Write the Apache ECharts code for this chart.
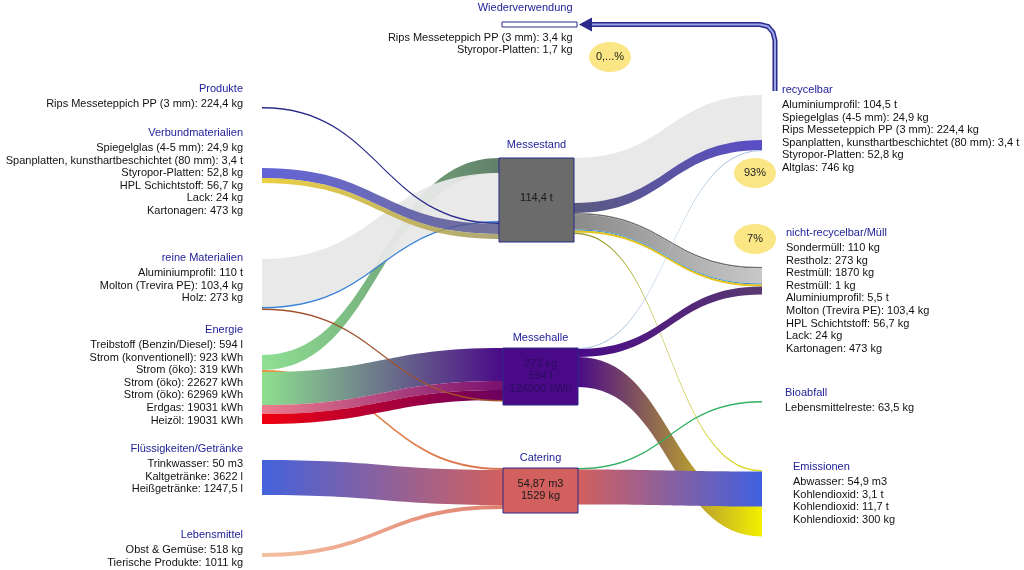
<!DOCTYPE html>
<html><head><meta charset="utf-8">
<script src="https://cdn.jsdelivr.net/npm/echarts@6/dist/echarts.min.js"></script>
<style>html,body{margin:0;padding:0;background:#fff}#c{width:1024px;height:570px}</style>
</head><body><div id="c"></div>
<script>
// ---------- DATA ----------
const sourceNames = ['Energie', 'reine Materialien', 'Produkte', 'Verbundmaterialien', 'Flüssigkeiten/Getränke', 'Lebensmittel'];
const stageNames = ['Messestand', 'Catering', 'Messehalle'];
const sinkNames = ['Wiederverwendung', 'recycelbar', 'nicht-recycelbar/Müll', 'Bioabfall', 'Emissionen'];

// flow widths
const linkSources = ['Energie','Energie','Energie','Energie','Energie',
  'reine Materialien','reine Materialien','reine Materialien','Produkte',
  'Verbundmaterialien','Verbundmaterialien','Flüssigkeiten/Getränke','Lebensmittel',
  'Messestand','Messestand','Messestand','Messestand','Messestand','Messestand','Messestand',
  'Messehalle','Messehalle','Messehalle','Catering','Catering'];
const linkTargets = ['Messestand','Catering','Messehalle','Messehalle','Messehalle',
  'Messestand','Messestand','Messehalle','Messestand',
  'Messestand','Messestand','Catering','Catering',
  'recycelbar','recycelbar','nicht-recycelbar/Müll','nicht-recycelbar/Müll','nicht-recycelbar/Müll','nicht-recycelbar/Müll','Emissionen',
  'recycelbar','nicht-recycelbar/Müll','Emissionen','Bioabfall','Emissionen'];
const linkValues = [15, 2, 33, 9, 10,
  48, 1.5, 1.5, 1.5,
  10, 5, 35, 4,
  45, 10, 1.5, 15, 1, 2, 1.5,
  1, 8, 30, 1.5, 35];

// texts
const stageTexts = {
  'Messestand': ['114,4 t'],
  'Messehalle': ['273 kg', '594 l', '124900 kWh'],
  'Catering': ['54,87 m3', '1529 kg']
};
const sourceItems = {
  'Produkte': ['Rips Messeteppich PP (3 mm): 224,4 kg'],
  'Verbundmaterialien': ['Spiegelglas (4-5 mm): 24,9 kg', 'Spanplatten, kunsthartbeschichtet (80 mm): 3,4 t', 'Styropor-Platten: 52,8 kg', 'HPL Schichtstoff: 56,7 kg', 'Lack: 24 kg', 'Kartonagen: 473 kg'],
  'reine Materialien': ['Aluminiumprofil: 110 t', 'Molton (Trevira PE): 103,4 kg', 'Holz: 273 kg'],
  'Energie': ['Treibstoff (Benzin/Diesel): 594 l', 'Strom (konventionell): 923 kWh', 'Strom (öko): 319 kWh', 'Strom (öko): 22627 kWh', 'Strom (öko): 62969 kWh', 'Erdgas: 19031 kWh', 'Heizöl: 19031 kWh'],
  'Flüssigkeiten/Getränke': ['Trinkwasser: 50 m3', 'Kaltgetränke: 3622 l', 'Heißgetränke: 1247,5 l'],
  'Lebensmittel': ['Obst & Gemüse: 518 kg', 'Tierische Produkte: 1011 kg']
};
const sinkItems = {
  'Wiederverwendung': ['Rips Messeteppich PP (3 mm): 3,4 kg', 'Styropor-Platten: 1,7 kg'],
  'recycelbar': ['Aluminiumprofil: 104,5 t', 'Spiegelglas (4-5 mm): 24,9 kg', 'Rips Messeteppich PP (3 mm): 224,4 kg', 'Spanplatten, kunsthartbeschichtet (80 mm): 3,4 t', 'Styropor-Platten: 52,8 kg', 'Altglas: 746 kg'],
  'nicht-recycelbar/Müll': ['Sondermüll: 110 kg', 'Restholz: 273 kg', 'Restmüll: 1870 kg', 'Restmüll: 1 kg', 'Aluminiumprofil: 5,5 t', 'Molton (Trevira PE): 103,4 kg', 'HPL Schichtstoff: 56,7 kg', 'Lack: 24 kg', 'Kartonagen: 473 kg'],
  'Bioabfall': ['Lebensmittelreste: 63,5 kg'],
  'Emissionen': ['Abwasser: 54,9 m3', 'Kohlendioxid: 3,1 t', 'Kohlendioxid: 11,7 t', 'Kohlendioxid: 300 kg']
};
const shareLabels = ['0,...%', '93%', '7%'];

// ---------- LAYOUT / STYLE ----------
const W = 1024, H = 190, NODE_W = 75;
const FONT = 'Liberation Sans, Arial, sans-serif';
const TITLE_C = '#22229a';
const pos = {
  'Energie': {x: 187, y: 355, lx: 56, ly: -33.7},
  'reine Materialien': {x: 187, y: 259, lx: 56, ly: -9.7},
  'Produkte': {x: 187, y: 107, lx: 56, ly: -26.7},
  'Verbundmaterialien': {x: 187, y: 168, lx: 56, ly: -43.7},
  'Flüssigkeiten/Getränke': {x: 187, y: 460, lx: 56, ly: -19.7},
  'Lebensmittel': {x: 187, y: 553, lx: 56, ly: -26.7},
  'Messestand': {x: 499, y: 158, box: 84, ly: -20, gap: 40.5, fill: '#6b6b6b', txt: '#1a1a1a'},
  'Catering': {x: 503, y: 468, box: 45, ly: -17, gap: 12.75, fill: '#d2605e', txt: '#1a1a1a'},
  'Messehalle': {x: 503, y: 348, box: 57, ly: -17, gap: 12.75, fill: '#4a0a88', txt: '#2a0c5c'},
  'Wiederverwendung': {x: 502, y: 22, box: 5, lx: 71, ly: -22.7, gap: 15},
  'recycelbar': {x: 762, y: 95, lx: 20, ly: -13.7},
  'nicht-recycelbar/Müll': {x: 762, y: 267, lx: 24, ly: -42.7},
  'Bioabfall': {x: 762, y: 401, lx: 23, ly: -16.7},
  'Emissionen': {x: 762, y: 470, lx: 31, ly: -11.7}
};
function grad(a, b) {
  return {type: 'linear', x: 0, y: 0, x2: 1, y2: 0, colorStops: [{offset: 0, color: a}, {offset: 1, color: b}]};
}
const linkStyles = [
  {color: grad('#8ee093', '#62806a')},
  {color: grad('#e89040', '#d87050')},
  {color: grad('#8ee08e', '#4a0a88')},
  {color: grad('#ec7c8c', '#7a1070')},
  {color: grad('#f00010', '#6a0060')},
  {color: '#e8e8e8', opacity: 0.95},
  {color: '#3a80d6'},
  {color: '#a0522d'},
  {color: '#2a2a8a'},
  {color: grad('#4848d0', '#5a5a88'), opacity: 0.85},
  {color: grad('#e8c820', '#a09860'), opacity: 0.85},
  {color: grad('#4462dc', '#d2605e')},
  {color: grad('#f4c0a0', '#e08070')},
  {color: '#e8e8e8', opacity: 0.95},
  {color: grad('#5a5a80', '#5a4ec8')},
  {color: '#6e6e6e'},
  {color: grad('#8a8a8a', '#c8c8c8')},
  {color: '#3a90d0'},
  {color: '#e2c21a'},
  {color: grad('#9a9a40', '#e0e020')},
  {color: '#a8c0e0'},
  {color: grad('#4a0a88', '#5a3a70')},
  {color: grad('#4a0a88', '#f4f000')},
  {color: '#30b060'},
  {color: grad('#d2605e', '#4060e0')}
];

// ---------- BUILD ----------
function block(title, items) {
  return '{t|' + title + '}\n' + items.map(s => '{i|' + s + '}').join('\n');
}
const nodes = [];
sourceNames.forEach(n => {
  const p = pos[n];
  nodes.push({
    name: n, depth: 0, localX: p.x / W, localY: p.y / H,
    itemStyle: {color: 'rgba(0,0,0,0)', borderWidth: 0},
    label: {show: true, position: [p.lx, p.ly], align: 'right', verticalAlign: 'top',
      formatter: () => block(n, sourceItems[n])}
  });
});
stageNames.forEach(n => {
  const p = pos[n];
  nodes.push({
    name: n, depth: 1, value: p.box, localX: p.x / W, localY: p.y / H,
    itemStyle: {color: p.fill, borderColor: '#2a2a8a', borderWidth: 1},
    label: {show: true, position: ['50%', p.ly], align: 'center', verticalAlign: 'top',
      formatter: () => '{mt|' + n + '}\n{g| }\n' + stageTexts[n].map(s => '{v|' + s + '}').join('\n'),
      rich: {v: {color: p.txt, fontSize: 11, lineHeight: 12.5, fontFamily: FONT}, g: {fontSize: 1, lineHeight: p.gap}}}
  });
});
sinkNames.forEach(n => {
  const p = pos[n];
  const isW = n === 'Wiederverwendung';
  nodes.push({
    name: n, depth: 2, value: isW ? p.box : undefined, localX: p.x / W, localY: p.y / H,
    itemStyle: isW ? {color: '#ffffff', borderColor: '#2a2a8a', borderWidth: 1} : {color: 'rgba(0,0,0,0)', borderWidth: 0},
    label: {show: true, position: [p.lx, p.ly], align: isW ? 'right' : 'left', verticalAlign: 'top',
      formatter: () => isW
        ? '{t|' + n + '}\n{g| }\n' + sinkItems[n].map(s => '{i|' + s + '}').join('\n')
        : block(n, sinkItems[n]),
      rich: {g: {fontSize: 1, lineHeight: p.gap || 1}}}
  });
});
const links = linkValues.map((v, i) => ({
  source: linkSources[i], target: linkTargets[i], value: v,
  lineStyle: Object.assign({opacity: 1, curveness: 0.5}, linkStyles[i])
}));

// annotation ellipses & reuse arrow derived from node layout
const rec = pos['recycelbar'], wv = pos['Wiederverwendung'];
const ax = rec.x + 13, ay = wv.y + wv.box / 2, tip = wv.x + NODE_W + 2;
const ellipses = [
  {cx: wv.x + 108, cy: wv.y + 35, t: shareLabels[0]},
  {cx: rec.x - 7, cy: rec.y + 78, t: shareLabels[1]},
  {cx: rec.x - 7, cy: pos['nicht-recycelbar/Müll'].y - 28, t: shareLabels[2]}
];
const graphics = [];
ellipses.forEach(e => {
  graphics.push({type: 'ellipse', shape: {cx: e.cx, cy: e.cy, rx: 21, ry: 15}, style: {fill: '#fae685'}, z: 10});
  graphics.push({type: 'text', x: e.cx, y: e.cy, style: {text: e.t, fill: '#222', font: '11px ' + FONT, textAlign: 'center', textVerticalAlign: 'middle'}, z: 11});
});
const arrowPts = [[ax, rec.y - 4], [ax, ay + 16], [ax - 2, ay + 8], [ax - 7, ay + 2], [ax - 15, ay], [tip + 12, ay]];
graphics.push({type: 'polyline', shape: {points: arrowPts}, style: {stroke: '#2a2a8a', lineWidth: 5, fill: null}, z: 10});
graphics.push({type: 'polyline', shape: {points: arrowPts}, style: {stroke: '#9aa4e8', lineWidth: 2, fill: null}, z: 11});
graphics.push({type: 'polygon', shape: {points: [[tip, ay], [tip + 13, ay - 7], [tip + 13, ay + 7]]}, style: {fill: '#2a2a8a'}, z: 11});

const chart = echarts.init(document.getElementById('c'));
chart.setOption({
  backgroundColor: '#ffffff',
  animation: false,
  textStyle: {fontFamily: FONT},
  graphic: graphics,
  series: [{
    type: 'sankey',
    left: 0, top: 0, width: W, height: H,
    nodeWidth: NODE_W, nodeGap: 2, layoutIterations: 0, nodeAlign: 'left',
    draggable: false,
    emphasis: {focus: 'none'},
    label: {
      fontFamily: FONT, fontSize: 11, color: '#111',
      rich: {
        t: {color: TITLE_C, fontSize: 11, lineHeight: 17.4, fontFamily: FONT},
        i: {color: '#111', fontSize: 11, lineHeight: 12.6, fontFamily: FONT},
        mt: {color: TITLE_C, fontSize: 11, lineHeight: 14, fontFamily: FONT},
        v: {color: '#1a1a1a', fontSize: 11, lineHeight: 12.5, fontFamily: FONT},
        g: {fontSize: 1, lineHeight: 10}
      }
    },
    data: nodes,
    links: links
  }]
});
</script>
</body></html>
